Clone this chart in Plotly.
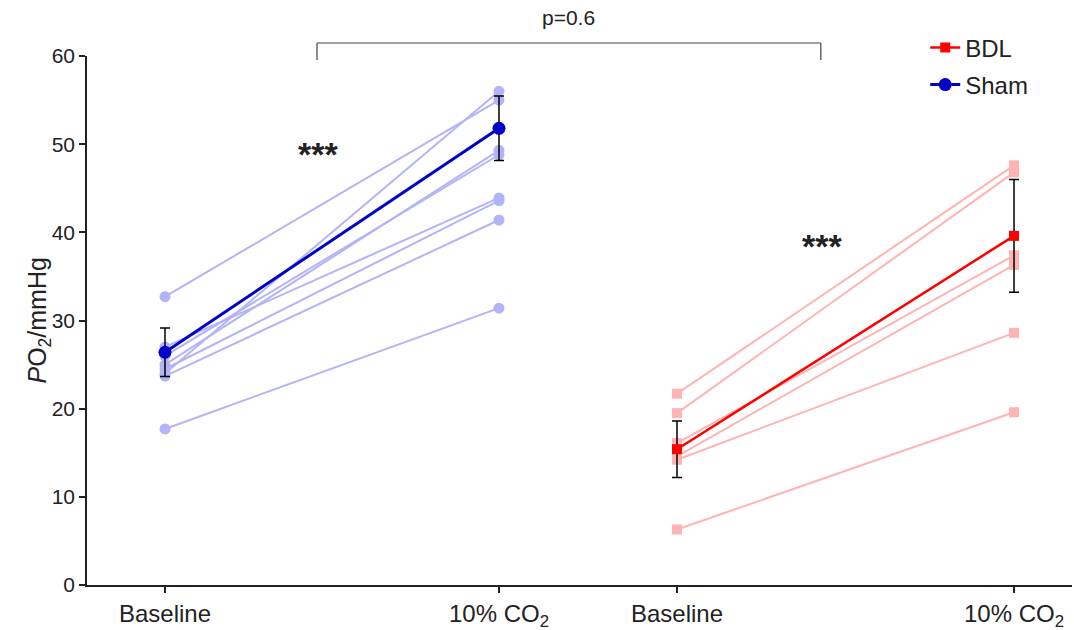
import plotly.graph_objects as go

# ---- data ----
conditions = ["Baseline", "10% CO<sub>2</sub>", "Baseline", "10% CO<sub>2</sub>"]

sham_baseline = [24.0, 32.7, 25.0, 26.0, 27.0, 24.5, 23.7, 17.7]
sham_co2 = [56.0, 55.0, 49.3, 48.8, 43.9, 43.6, 41.4, 31.4]
sham_mean = [26.4, 51.8]
sham_sem = [2.75, 3.65]

bdl_baseline = [21.7, 19.5, 16.1, 14.6, 14.2, 6.3]
bdl_co2 = [47.6, 46.8, 37.4, 36.3, 28.6, 19.6]
bdl_mean = [15.4, 39.6]
bdl_sem = [3.2, 6.4]

p_text = "p=0.6"
sig_text = "***"
y_title = "<i>P</i>O<sub>2</sub>/mmHg"

# ---- layout constants ----
xpos = [0.0, 1.0, 1.533, 2.542]
FONT = "Liberation Sans"

sham_light = "#b3b3f7"
sham_dark = "#0000c8"
bdl_light = "#ffb4b4"
bdl_dark = "#ff0000"


def paired(x0, x1, a, b):
    xs, ys = [], []
    for u, v in zip(a, b):
        xs += [x0, x1, None]
        ys += [u, v, None]
    return xs, ys


fig = go.Figure()

sx, sy = paired(xpos[0], xpos[1], sham_baseline, sham_co2)
fig.add_trace(go.Scatter(x=sx, y=sy, mode="lines+markers", showlegend=False,
                         line=dict(color=sham_light, width=2),
                         marker=dict(symbol="circle", size=11, color=sham_light),
                         hoverinfo="skip"))
bx, by = paired(xpos[2], xpos[3], bdl_baseline, bdl_co2)
fig.add_trace(go.Scatter(x=bx, y=by, mode="lines+markers", showlegend=False,
                         line=dict(color=bdl_light, width=2),
                         marker=dict(symbol="square", size=10, color=bdl_light),
                         hoverinfo="skip"))

fig.add_trace(go.Scatter(x=[xpos[2], xpos[3]], y=bdl_mean, mode="lines+markers", name="BDL",
                         line=dict(color=bdl_dark, width=2.5),
                         marker=dict(symbol="square", size=10, color=bdl_dark),
                         error_y=dict(type="data", array=bdl_sem, color="black", thickness=1.5, width=5),
                         legendrank=1, legendgroup="a"))
fig.add_trace(go.Scatter(x=[xpos[0], xpos[1]], y=sham_mean, mode="lines+markers", name="Sham",
                         line=dict(color=sham_dark, width=3),
                         marker=dict(symbol="circle", size=13, color=sham_dark),
                         error_y=dict(type="data", array=sham_sem, color="black", thickness=1.5, width=5),
                         legendrank=2, legendgroup="b"))

# significance bracket
bx0, bx1 = 0.2335, 0.745
ytop, ybot = 1.0246, 0.9924
for (xa, ya, xb, yb) in [(bx0, ytop, bx1, ytop), (bx0, ytop, bx0, ybot), (bx1, ytop, bx1, ybot)]:
    fig.add_shape(type="line", xref="paper", yref="paper", x0=xa, y0=ya, x1=xb, y1=yb,
                  line=dict(color="#444444", width=1.2))

fig.add_annotation(xref="paper", yref="paper", x=(bx0 + bx1) / 2, y=1.072, text=p_text,
                   showarrow=False, font=dict(family=FONT, size=21, color="#222222"),
                   xanchor="center", yanchor="middle")
fig.add_annotation(x=0.458, y=48.9, text="<b>" + sig_text + "</b>", showarrow=False,
                   font=dict(family=FONT, size=34, color="#222222"), xanchor="center", yanchor="middle")
fig.add_annotation(x=1.967, y=38.5, text="<b>" + sig_text + "</b>", showarrow=False,
                   font=dict(family=FONT, size=34, color="#222222"), xanchor="center", yanchor="middle")
# y-axis title
fig.add_annotation(xref="paper", yref="paper", x=-0.0497, y=0.5, text=y_title, textangle=-90,
                   showarrow=False, font=dict(family=FONT, size=25, color="#222222"),
                   xanchor="center", yanchor="middle")

fig.update_layout(
    width=1074, height=630,
    margin=dict(l=87, r=2, t=56, b=45),
    plot_bgcolor="white", paper_bgcolor="white",
    font=dict(family=FONT, color="#222222"),
    showlegend=True,
    legend=dict(x=0.851, y=1.058, xanchor="left", yanchor="top",
                font=dict(family=FONT, size=24, color="#222222"),
                bgcolor="rgba(0,0,0,0)", tracegroupgap=3, traceorder="grouped"),
    xaxis=dict(range=[-0.2335, 2.7156], tickvals=xpos, ticktext=conditions, automargin=False,
               showgrid=False, zeroline=False, showline=True, linecolor="#222222", linewidth=1.5,
               ticks="outside", ticklen=6, tickwidth=1.5, tickcolor="#222222",
               tickfont=dict(family=FONT, size=24, color="#222222")),
    yaxis=dict(range=[0, 60], tickvals=[0, 10, 20, 30, 40, 50, 60], automargin=False,
               showgrid=False, zeroline=False, showline=True, linecolor="#222222", linewidth=1.5,
               ticks="outside", ticklen=6, tickwidth=1.5, tickcolor="#222222",
               tickfont=dict(family=FONT, size=21, color="#222222")),
)

fig.write_html("out.html")
